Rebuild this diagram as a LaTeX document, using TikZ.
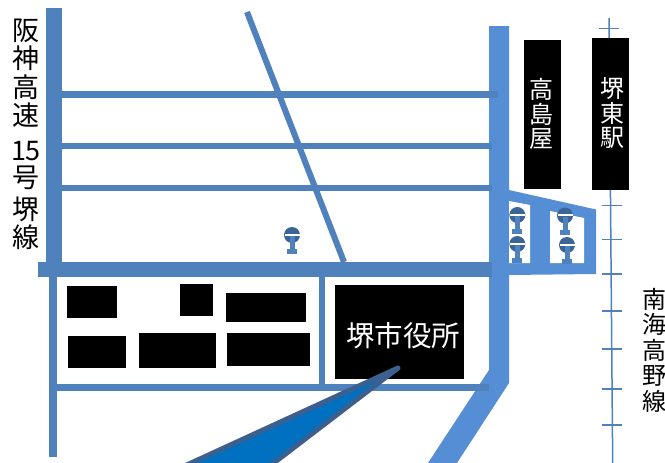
\documentclass[tikz,border=0pt]{standalone}
\usepackage{fontspec}
\setmainfont{Noto Sans CJK JP}
\definecolor{road}{HTML}{4F81BD}
\definecolor{roadb}{HTML}{558ED5}
\definecolor{wedgeline}{HTML}{3B5F8F}
\definecolor{wedgefill}{HTML}{0070C0}
\definecolor{lampd}{HTML}{3A6596}
\tikzset{
  roadrect/.style={fill=road,draw=none},
  structure/.style={fill=roadb,draw=none},
  blackbox/.style={fill=black,draw=none,inner sep=0pt},
  thinroad/.style={draw=road,line width=6pt},
  rail/.style={draw=road,line width=1.5pt},
  vlabel/.style={inner sep=0pt,align=center,font=\fontsize{27}{28.5}\selectfont},
  wlabel/.style={inner sep=0pt,align=center,text=white,font=\fontsize{24}{24.5}\selectfont},
  lamp/.pic={
    \fill[road] (-2.5,0) rectangle (2.5,14);
    \fill[road] (-5,14) rectangle (5,19);
    \fill[lampd] (0,0) circle (8);
    \fill[road] (-2.5,1) rectangle (2.5,8);
    \fill[white] (-7.5,-1.2) rectangle (7.5,0.8);
  }
}
\begin{document}
\begin{tikzpicture}[x=1pt,y=-1pt]
\useasboundingbox (0,0) rectangle (665,463);
\fill[white] (0,0) rectangle (665,463);
% railway
\draw[rail] (609,18) -- (612.7,463);
\foreach \ty/\tx in {28.5/608.5,205.5/612,239.5/612,274/612,311/612,349/612,389/612,425/612}
  \draw[rail] (\tx-10,\ty) -- (\tx+10,\ty);
% right road and station
\fill[structure] (489,26) -- (509,26) -- (509,383) -- (457,463) -- (428,463) -- (489,370) -- cycle;
\fill[structure] (509,190) -- (596,209.5) -- (596,274) -- (509,275) -- cycle;
\fill[white] (509,201) -- (530,205) -- (530,263) -- (509,263) -- cycle;
\fill[white] (550,211) -- (584,218) -- (584,263) -- (550,263) -- cycle;
% roads
\fill[roadrect] (46,8) rectangle (62,262);
\fill[roadrect] (49,277) rectangle (57,457);
\draw[thinroad,line width=6.5pt] (62,94.5) -- (498,94.5);
\draw[thinroad] (62,146) -- (492,146);
\draw[thinroad] (62,188) -- (492,188);
\draw[thinroad] (247,12) -- (344,262);
\fill[roadrect] (38,262) rectangle (492,277);
\fill[roadrect] (319,277) rectangle (325,385);
\fill[roadrect] (57,384) rectangle (489,391);
% lamps
\pic at (292,235) {lamp};
\pic at (517.3,215) {lamp};
\pic at (517.3,244) {lamp};
\pic at (565,215.5) {lamp};
\pic at (567,245) {lamp};
% blocks
\fill[black] (67,286) rectangle (117,318);
\fill[black] (180,284) rectangle (213,316);
\fill[black] (226,293) rectangle (306,322);
\fill[black] (68,336) rectangle (126,368);
\fill[black] (139,333) rectangle (216,368);
\fill[black] (227,333) rectangle (310,366);
\fill[black] (335,285) rectangle (464,379);
\fill[black] (524,40) rectangle (561,189);
\fill[black] (592,38) rectangle (629,190);
\node[wlabel,font=\fontsize{28.5}{30}\selectfont] (cityhall) at (403,336) {堺市役所};
\node[wlabel] (takashimaya) at (541,114) {高\\島\\屋};
\node[wlabel] (sakaihigashi) at (612,113) {堺\\東\\駅};
% wedge
\begin{scope}
\clip (0,0) rectangle (665,463);
\draw[draw=wedgeline,fill=wedgefill,line width=5pt,line join=round] (398,368) -- (165,475) -- (258,475) -- cycle;
\end{scope}
% labels
\node[vlabel] (hanshin) at (26,134) {阪\\神\\高\\速\\[6.5pt]15\\[-1.5pt]号\\[3.5pt]堺\\[-1pt]線};
\node[vlabel,font=\fontsize{24}{25.5}\selectfont] (nankai) at (654,350) {南\\海\\高\\野\\線};
\end{tikzpicture}
\end{document}
